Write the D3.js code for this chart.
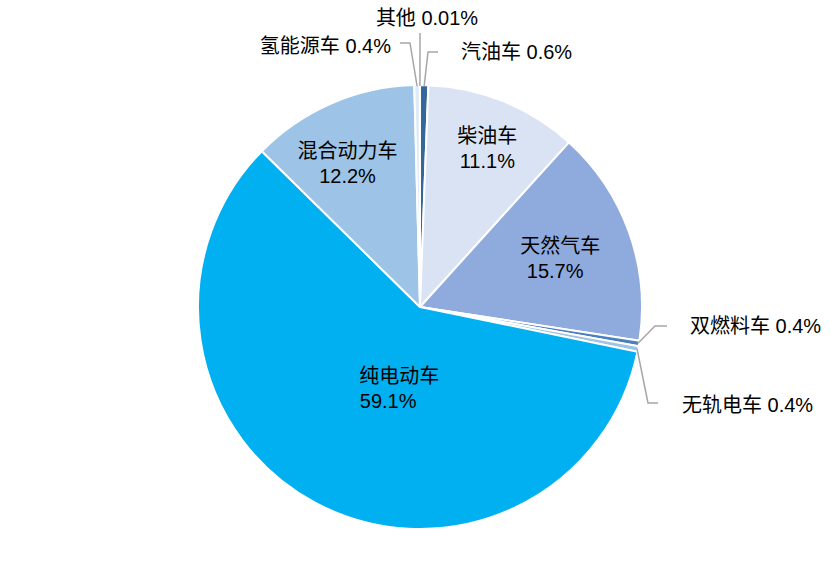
<!DOCTYPE html>
<html><head><meta charset="utf-8">
<script src="https://cdn.jsdelivr.net/npm/d3@7/dist/d3.min.js"></script>
<style>
html,body{margin:0;padding:0;background:#fff;}
text{font-family:"Liberation Sans","Noto Sans CJK SC",sans-serif;font-size:20px;fill:#000;}
</style></head>
<body><svg id="c" width="831" height="564"></svg>
<script>
const categories = ["汽油车","柴油车","天然气车","双燃料车","无轨电车","纯电动车","混合动力车","氢能源车","其他"];
const values = [0.6, 11.1, 15.7, 0.4, 0.4, 59.1, 12.2, 0.4, 0.01];
const valueLabels = ["0.6%","11.1%","15.7%","0.4%","0.4%","59.1%","12.2%","0.4%","0.01%"];
const colors = ["#35679a","#dae3f3","#8faadc","#4a7fc0","#9dc3e6","#00b0f0","#9dc3e6","#deebf7","#bdd7ee"];

const W = 831, H = 564, cx = 420, cy = 307, R = 222;
const svg = d3.select("#c");
const g = svg.append("g").attr("transform", `translate(${cx},${cy})`);
const pie = d3.pie().sort(null).value(d => d.v);
const data = categories.map((c,i) => ({c, v: values[i], l: valueLabels[i], col: colors[i]}));
const arcs = pie(data);
const arc = d3.arc().innerRadius(0).outerRadius(R);

g.selectAll("path").data(arcs).enter().append("path")
  .attr("d", arc).attr("fill", d => d.data.col)
  .attr("stroke", "#fff").attr("stroke-width", 2).attr("stroke-linejoin","round");

// inside labels: radius factor along mid angle, plus per-line offsets [dx1, dx2, dy]
const insideR = {"柴油车":0.78, "天然气车":0.67, "纯电动车":0.41, "混合动力车":0.73};
const insideShift = {"柴油车":[2,2,1], "天然气车":[0,-5,1], "纯电动车":[22,11,1], "混合动力车":[-8,-8,5]};
arcs.forEach(a => {
  const k = insideR[a.data.c];
  if (k === undefined) return;
  const m = (a.startAngle + a.endAngle)/2;
  const s = insideShift[a.data.c];
  const x = Math.sin(m)*R*k, y = -Math.cos(m)*R*k + s[2];
  const t = g.append("text").attr("text-anchor","middle");
  t.append("tspan").attr("x", x + s[0]).attr("y", y - 5).text(a.data.c);
  t.append("tspan").attr("x", x + s[1]).attr("y", y + 20).text(a.data.l);
});

// outside labels with leader lines: elbow offset (from center), horizontal run, text anchor
const outside = {
  "其他":     {elbow:[0,-274], run:0,   tx:7,   ty:-282, anchor:"middle"},
  "汽油车":   {elbow:[8,-255], run:10,  tx:41,  ty:-248, anchor:"start"},
  "氢能源车": {elbow:[-10,-264], run:-10, tx:-29, ty:-254, anchor:"end"},
  "双燃料车": {elbow:[235,19],  run:12,  tx:270, ty:26,  anchor:"start"},
  "无轨电车": {elbow:[228,96],  run:10,  tx:262, ty:105, anchor:"start"}
};
arcs.forEach(a => {
  const o = outside[a.data.c];
  if (!o) return;
  const m = (a.startAngle + a.endAngle)/2;
  const p0 = [Math.sin(m)*(R-1), -Math.cos(m)*(R-1)];
  const pts = [p0, o.elbow, [o.elbow[0]+o.run, o.elbow[1]]];
  g.append("path").attr("d", d3.line()(pts)).attr("fill","none")
    .attr("stroke","#a6a6a6").attr("stroke-width",1.5);
  g.append("text").attr("x", o.tx).attr("y", o.ty).attr("text-anchor", o.anchor)
    .text(a.data.c + " " + a.data.l);
});
</script></body></html>
